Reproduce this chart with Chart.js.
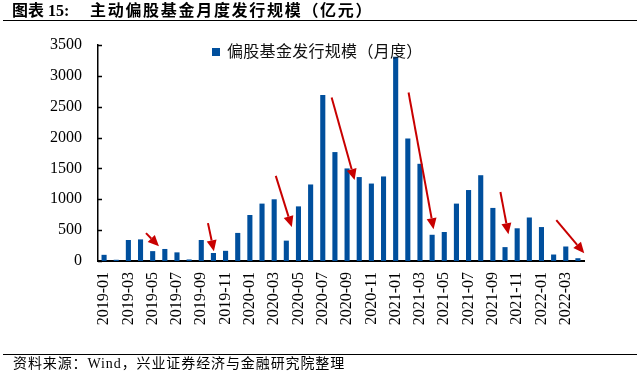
<!DOCTYPE html>
<html><head><meta charset="utf-8">
<script src="https://cdn.jsdelivr.net/npm/chart.js@4.4.1/dist/chart.umd.min.js"></script>
<style>
html,body{margin:0;padding:0;background:#fff;}
#wrap{position:relative;width:637px;height:380px;overflow:hidden;font-family:"Liberation Serif","Noto Sans CJK SC",serif;color:#000;}
#chartBox{position:absolute;left:0;top:0;width:637px;height:380px;}
#title{position:absolute;left:12px;top:1px;font-weight:bold;font-size:16px;line-height:19px;font-family:"Liberation Serif","Noto Sans CJK SC",serif;white-space:nowrap;}
#title .main{position:absolute;left:78px;top:0;letter-spacing:1.7px;}
#tline{position:absolute;left:3px;width:634px;top:20px;height:0;border-top:1.5px solid #000;}
#fline{position:absolute;left:3px;width:634px;top:354px;height:0;border-top:1px solid #000;}
#footer{position:absolute;left:13px;top:355px;font-size:14px;line-height:17px;letter-spacing:0.9px;white-space:nowrap;font-family:"Liberation Serif","Noto Sans CJK SC",serif;}
#legend{position:absolute;left:212px;top:42px;font-size:16px;line-height:20px;letter-spacing:0.3px;white-space:nowrap;font-family:"Liberation Serif","Noto Sans CJK SC",serif;color:#111;}
#legend .sw{display:inline-block;width:8px;height:8px;margin-right:7px;vertical-align:1px;}
</style>
</head><body>
<div id="wrap">
  <div id="chartBox"><canvas id="c" width="637" height="380"></canvas></div>
  <div id="title"><span>图表 15:</span><span class="main">主动偏股基金月度发行规模（亿元）</span></div>
  <div id="tline"></div>
  <div id="legend"><span class="sw" id="sw"></span><span id="legText"></span></div>
  <div id="fline"></div>
  <div id="footer">资料来源：Wind，兴业证券经济与金融研究院整理</div>
</div>
<script>
const seriesName = '偏股基金发行规模（月度）';
const barColor = '#004f9d';
const categories = [
  '2019-01','2019-02','2019-03','2019-04','2019-05','2019-06','2019-07','2019-08','2019-09','2019-10','2019-11','2019-12',
  '2020-01','2020-02','2020-03','2020-04','2020-05','2020-06','2020-07','2020-08','2020-09','2020-10','2020-11','2020-12',
  '2021-01','2021-02','2021-03','2021-04','2021-05','2021-06','2021-07','2021-08','2021-09','2021-10','2021-11','2021-12',
  '2022-01','2022-02','2022-03','2022-04'
];
const issuance = [
  100, 20, 340, 350, 160, 195, 140, 25, 340, 130, 165, 455,
  745, 930, 1000, 330, 885, 1240, 2690, 1765, 1500, 1360, 1255, 1370,
  3310, 1985, 1575, 425, 470, 930, 1150, 1390, 860, 225, 530, 705,
  550, 105, 235, 45
];
const tickLabels = categories.filter((_, i) => i % 2 === 0);
const yTicks = [0, 500, 1000, 1500, 2000, 2500, 3000, 3500];
// annotation arrows in data units: [category index, value]
const arrowNotes = [
  {from: [3.45, 451],  to: [4.52, 239]},
  {from: [8.55, 614],  to: [9.04, 158]},
  {from: [14.13, 1379], to: [15.45, 549]},
  {from: [18.73, 2649], to: [20.62, 1314]},
  {from: [25.06, 2730], to: [27.12, 516]},
  {from: [32.62, 1118], to: [33.28, 435]},
  {from: [37.22, 663],  to: [39.52, 125]}
];

document.getElementById('legText').textContent = seriesName;
document.getElementById('sw').style.background = barColor;

const innerTicks = {
  id: 'innerTicks',
  afterDatasetsDraw(chart) {
    const ctx = chart.ctx, ys = chart.scales.y, left = chart.chartArea.left;
    ctx.save();
    ctx.strokeStyle = '#000';
    ctx.lineWidth = 1.5;
    ys.ticks.forEach(t => {
      const y = Math.round(ys.getPixelForValue(t.value)) + 0.5;
      ctx.beginPath();
      ctx.moveTo(left, y);
      ctx.lineTo(left + 4, y);
      ctx.stroke();
    });
    ctx.restore();
  }
};

const arrowPlugin = {
  id: 'arrows',
  afterDatasetsDraw(chart) {
    const ctx = chart.ctx, xs = chart.scales.x, ys = chart.scales.y;
    ctx.save();
    ctx.strokeStyle = '#c80000';
    ctx.fillStyle = '#c80000';
    ctx.lineWidth = 2;
    arrowNotes.forEach(a => {
      const x1 = xs.getPixelForValue(a.from[0]), y1 = ys.getPixelForValue(a.from[1]);
      const x2 = xs.getPixelForValue(a.to[0]), y2 = ys.getPixelForValue(a.to[1]);
      const ang = Math.atan2(y2 - y1, x2 - x1);
      const hl = 11, hw = 5;
      const bx = x2 - hl * Math.cos(ang), by = y2 - hl * Math.sin(ang);
      ctx.beginPath();
      ctx.moveTo(x1, y1);
      ctx.lineTo(bx, by);
      ctx.stroke();
      ctx.beginPath();
      ctx.moveTo(x2, y2);
      ctx.lineTo(bx + hw * Math.sin(ang), by - hw * Math.cos(ang));
      ctx.lineTo(bx - hw * Math.sin(ang), by + hw * Math.cos(ang));
      ctx.closePath();
      ctx.fill();
    });
    ctx.restore();
  }
};

new Chart(document.getElementById('c'), {
  type: 'bar',
  data: {
    labels: categories,
    datasets: [{
      label: seriesName,
      data: issuance,
      backgroundColor: barColor,
      barPercentage: 0.42,
      categoryPercentage: 1.0
    }]
  },
  options: {
    responsive: false,
    animation: false,
    layout: {padding: {top: 45, right: 53, left: 0, bottom: 0}},
    plugins: {legend: {display: false}, tooltip: {enabled: false}, title: {display: false}},
    scales: {
      x: {
        offset: true,
        afterFit(s) { s.height = 119; },
        grid: {display: false, drawOnChartArea: false, drawTicks: false},
        border: {display: true, color: '#000', width: 2},
        ticks: {
          autoSkip: false, minRotation: 90, maxRotation: 90, padding: 11,
          color: '#000',
          font: {family: '"Liberation Serif", serif', size: 16},
          callback(v, i) { const l = categories[i]; return tickLabels.includes(l) ? l : ''; }
        }
      },
      y: {
        min: 0, max: 3500,
        afterFit(s) { s.width = 98; },
        afterBuildTicks(s) { s.ticks = yTicks.map(v => ({value: v})); },
        grid: {display: false, drawOnChartArea: false, drawTicks: false},
        border: {display: true, color: '#000', width: 1.5},
        ticks: {
          padding: 16, color: '#000',
          font: {family: '"Liberation Serif", serif', size: 16},
          callback(v) { return String(v); }
        }
      }
    }
  },
  plugins: [innerTicks, arrowPlugin]
});
</script>
</body></html>
